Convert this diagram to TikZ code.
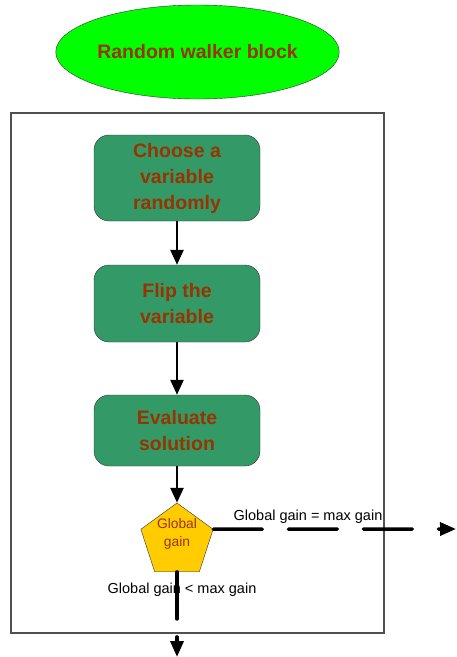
\documentclass[tikz,border=0pt]{standalone}
\usepackage{fontspec}
\setmainfont{Liberation Sans}
\usetikzlibrary{shapes.geometric,arrows.meta}
\definecolor{walkgreen}{RGB}{51,153,102}
\definecolor{textbrown}{RGB}{153,51,0}
\definecolor{gaingold}{RGB}{255,204,0}
\definecolor{framegray}{RGB}{80,80,80}
\begin{document}
\begin{tikzpicture}[x=1pt, y=-1pt,
  box/.style={rectangle, draw=black!80, fill=walkgreen, rounded corners=15pt,
    minimum width=166pt, minimum height=#1, inner sep=0pt, align=center,
    text=textbrown, font=\fontsize{19.5}{26}\selectfont\bfseries},
  arr/.style={-{Triangle[width=13pt,length=15pt]}, line width=2.5pt},
  exitline/.style={-{Triangle[width=13pt,length=16pt]}, line width=3.5pt, line cap=round},
  cond/.style={font=\fontsize{14.5}{17}\selectfont, inner sep=0pt}
]
\useasboundingbox (0,0) rectangle (456,657);
\node[draw=framegray, line width=1.2pt, minimum width=373pt, minimum height=520pt,
  inner sep=0pt] (walker) at (197.5,373) {};
\node[ellipse, draw=black!80, fill=green, minimum width=269pt, minimum height=94pt,
  inner sep=0pt, text=textbrown, font=\fontsize{19.5}{24}\selectfont\bfseries]
  (title) at (197.5,52) {Random walker block};
\node[box=86pt] (choose) at (177,178) {Choose a\\variable\\randomly};
\node[box=77pt] (flip) at (177,303.5) {Flip the\\variable};
\node[box=71pt] (eval) at (177,430.5) {Evaluate\\solution};
\node[regular polygon, regular polygon sides=5, draw=black!80, fill=gaingold,
  minimum size=76pt, inner sep=0pt] (gain) at (177,541) {};
\node[align=center, text=textbrown, inner sep=0pt,
  font=\fontsize{13.8}{18}\selectfont] (gaintext) at (177,534) {Global\\gain};
\node[cond] (eqlabel) at (308,517) {Global gain = max gain};
\node[cond] (ltlabel) at (182,590) {Global gain < max gain};
\coordinate (exitright) at (456,529);
\coordinate (exitdown) at (177,657);
\draw[arr] (choose) -- (flip);
\draw[arr] (flip) -- (eval);
\draw[arr] (eval) -- (gain.corner 1);
\draw[exitline, dash pattern=on 49pt off 26pt] (gain.corner 5) -- (exitright);
\draw[exitline, dash pattern=on 47pt off 18pt] (gain.south) -- (exitdown);
\end{tikzpicture}
\end{document}
